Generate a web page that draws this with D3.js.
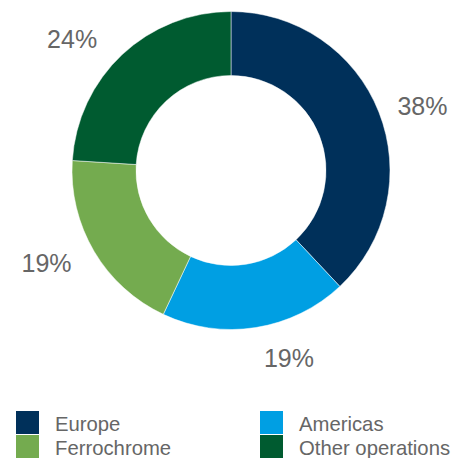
<!DOCTYPE html>
<html>
<head>
<meta charset="utf-8">
<script src="https://cdn.jsdelivr.net/npm/d3@7/dist/d3.min.js"></script>
<style>
  html, body { margin: 0; padding: 0; background: #fff; }
  svg { display: block; }
  text { font-family: "Liberation Sans", Arial, sans-serif; fill: #666; }
</style>
</head>
<body>
<script>
// Share of total by segment
const categories = ["Europe", "Americas", "Ferrochrome", "Other operations"];
const values = [38, 19, 19, 24];
const colors = ["#00305a", "#009fe3", "#74ab4f", "#005b30"];

const W = 454, H = 458;
const cx = 231, cy = 170.5, rOuter = 159, rInner = 95;

// fine placement of each percentage label relative to its slice direction
const labelNudge = [[5.5, 9], [26.7, -10.5], [-12.3, -9.8], [-22, 13.8]];
const capHalf = 9;

const svg = d3.select("body").append("svg").attr("width", W).attr("height", H);

const data = categories.map((c, i) => ({ name: c, value: values[i], color: colors[i], idx: i }));

const pie = d3.pie().value(d => d.value).sort(null);
const arcs = pie(data);
const arc = d3.arc().innerRadius(rInner).outerRadius(rOuter);

const g = svg.append("g").attr("transform", `translate(${cx},${cy})`);
g.selectAll("path").data(arcs).join("path")
  .attr("d", arc)
  .attr("fill", d => d.data.color)
  .attr("stroke", "#fff")
  .attr("stroke-width", 0.5);

// percentage labels outside the ring
const labelArc = d3.arc().innerRadius(200).outerRadius(200);
g.selectAll("text.pct").data(arcs).join("text")
  .attr("class", "pct")
  .attr("x", d => labelArc.centroid(d)[0] + labelNudge[d.data.idx][0])
  .attr("y", d => labelArc.centroid(d)[1] + labelNudge[d.data.idx][1] + capHalf)
  .attr("text-anchor", "middle")
  .style("font-size", "25px")
  .text(d => d3.format(".0%")(d.data.value / d3.sum(values)));

// legend in two columns
const col = d3.scaleOrdinal().domain([0, 1]).range([16, 260]);
const row = d3.scaleOrdinal().domain([0, 1]).range([411, 435]);
const lg = svg.append("g").selectAll("g").data(data).join("g")
  .attr("transform", (d, i) => `translate(${col(i % 2)},${row(Math.floor(i / 2))})`);
lg.append("rect").attr("width", 23).attr("height", 23).attr("fill", d => d.color);
lg.append("text").attr("x", 39).attr("y", 20).style("font-size", "20.3px").text(d => d.name);
</script>
</body>
</html>
